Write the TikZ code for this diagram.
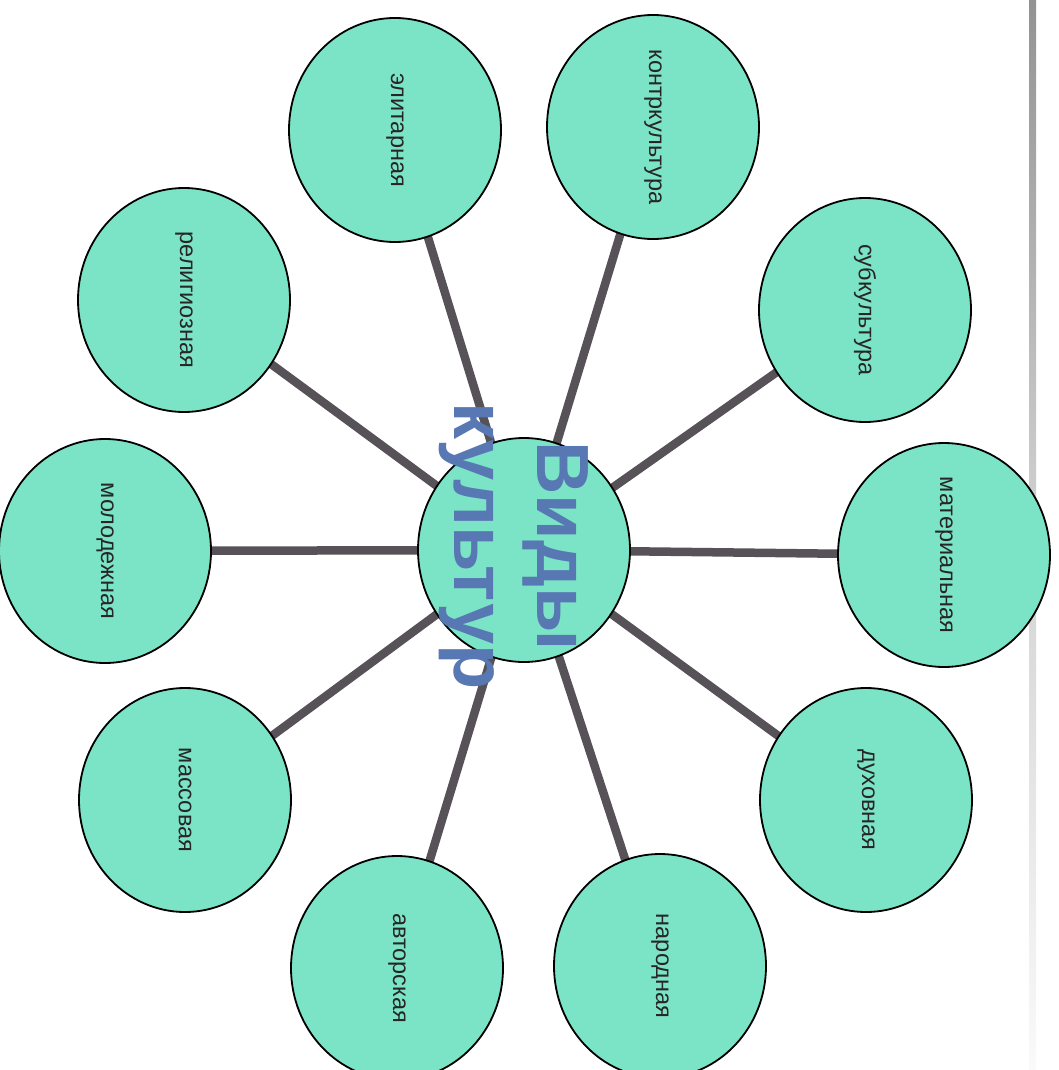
\documentclass[tikz,border=0pt]{standalone}
\usepackage{fontspec}
\setmainfont{Liberation Sans}
\usetikzlibrary{shapes.geometric,backgrounds}
\definecolor{turq}{RGB}{124,228,198}
\definecolor{conn}{RGB}{86,82,88}
\definecolor{titleblue}{RGB}{88,120,180}
\newcommand\lblfont{\fontsize{23.5}{27}\selectfont\color{black!85}}
\tikzset{
  blob/.style={ellipse,draw=black,line width=1.8pt,fill=turq,minimum width=212pt,minimum height=224pt,inner sep=0pt},
  spoke/.style={draw=conn,line width=8.5pt}
}
\begin{document}
\begin{tikzpicture}[x=1pt,y=-1pt]
\useasboundingbox (0,0) rectangle (1059,1070);
\fill[top color=gray!85,bottom color=gray!4,middle color=gray!35] (1029,0) rectangle (1036,1070);
\node[blob] (c) at (524,550) {};
\node[rotate=-90,align=center,font=\bfseries\fontsize{74}{83}\selectfont,text=titleblue] (ct) at (514,546) {Виды\\культур};
\node[blob] (mat) at (944,555) {\rotatebox{-90}{\lblfont материальная}};
\node[blob] (sub) at (865,310) {\rotatebox{-90}{\lblfont субкультура}};
\node[blob] (kon) at (653,127) {\rotatebox{-90}{\lblfont контркультура}};
\node[blob] (eli) at (395,130) {\rotatebox{-90}{\lblfont элитарная}};
\node[blob] (rel) at (184,300) {\rotatebox{-90}{\lblfont религиозная}};
\node[blob] (mol) at (105,551) {\rotatebox{-90}{\lblfont молодежная}};
\node[blob] (mas) at (185,800) {\rotatebox{-90}{\lblfont массовая}};
\node[blob] (avt) at (397,968) {\rotatebox{-90}{\lblfont авторская}};
\node[blob] (nar) at (660,966) {\rotatebox{-90}{\lblfont народная}};
\node[blob] (duh) at (866,800) {\rotatebox{-90}{\lblfont духовная}};
\begin{scope}[on background layer]
\foreach \n in {mat,sub,kon,eli,rel,mol,mas,avt,nar,duh}
  \draw[spoke] (c.center) -- (\n.center);
\end{scope}
\end{tikzpicture}
\end{document}
